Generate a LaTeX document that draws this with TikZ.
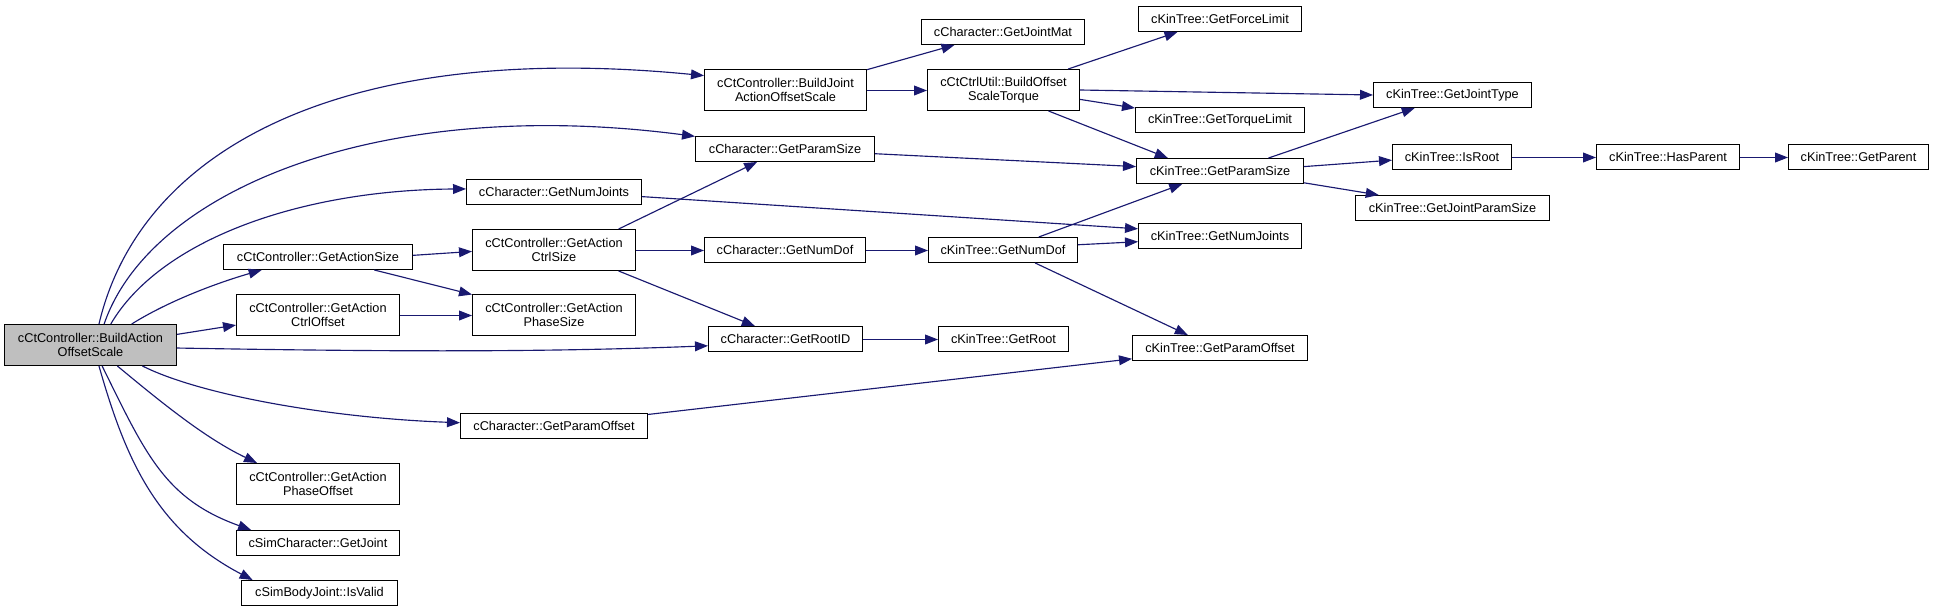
\documentclass[tikz,border=0pt]{standalone}
\usepackage{fontspec}
\setmainfont{Liberation Sans}
\usetikzlibrary{arrows.meta}

\definecolor{edgeblue}{RGB}{25,25,112}
\definecolor{rootgray}{RGB}{191,191,191}

\begin{document}
\begin{tikzpicture}[
    x=0.02cm, y=-0.02cm,
    fnbox/.style={rectangle, draw=black, line width=0.02cm, fill=white, inner sep=0pt,
      align=center, font=\fontsize{7.25}{8.15}\selectfont, minimum height=0.5cm},
    twoline/.style={minimum height=0.82cm},
    fnroot/.style={fnbox, twoline, fill=rootgray},
    arrow/.style={-{Triangle[length=7.4pt,width=5.6pt]}, line width=0.65pt, draw=edgeblue}
  ]
  \useasboundingbox (0,0) rectangle (1933,612);

  % caller
  \node[fnroot, minimum width=3.44cm] (root) at (90.5,345) {cCtController::BuildAction\\OffsetScale};

  % first column
  \node[fnbox, minimum width=3.78cm] (ctAS) at (318,257) {cCtController::GetActionSize};
  \node[fnbox, twoline, minimum width=3.26cm] (ctACO) at (318,315) {cCtController::GetAction\\CtrlOffset};
  \node[fnbox, twoline, minimum width=3.26cm] (ctAPO) at (318,484) {cCtController::GetAction\\PhaseOffset};
  \node[fnbox, minimum width=3.26cm] (scGJ) at (318,543) {cSimCharacter::GetJoint};
  \node[fnbox, minimum width=3.12cm] (sbIV) at (319.5,593) {cSimBodyJoint::IsValid};

  % second column
  \node[fnbox, minimum width=3.5cm] (cNJ) at (554,192) {cCharacter::GetNumJoints};
  \node[fnbox, twoline, minimum width=3.26cm] (ctACS) at (554,250) {cCtController::GetAction\\CtrlSize};
  \node[fnbox, twoline, minimum width=3.26cm] (ctAPS) at (554,315) {cCtController::GetAction\\PhaseSize};
  \node[fnbox, minimum width=3.74cm] (cPO) at (554,426) {cCharacter::GetParamOffset};

  % third column
  \node[fnbox, twoline, minimum width=3.24cm] (bjaos) at (785.5,90) {cCtController::BuildJoint\\ActionOffsetScale};
  \node[fnbox, minimum width=3.58cm] (cGPS) at (785,149) {cCharacter::GetParamSize};
  \node[fnbox, minimum width=3.22cm] (cGND) at (785,250) {cCharacter::GetNumDof};
  \node[fnbox, minimum width=3.08cm] (cGRID) at (785.5,339) {cCharacter::GetRootID};

  % fourth column
  \node[fnbox, minimum width=3.26cm] (cGJM) at (1003,32) {cCharacter::GetJointMat};
  \node[fnbox, twoline, minimum width=3.04cm] (bost) at (1003.5,90) {cCtCtrlUtil::BuildOffset\\ScaleTorque};
  \node[fnbox, minimum width=2.98cm] (kGND) at (1003,250) {cKinTree::GetNumDof};
  \node[fnbox, minimum width=2.6cm] (kGR) at (1003.5,339) {cKinTree::GetRoot};

  % fifth column
  \node[fnbox, minimum width=3.26cm] (kGFL) at (1220,19) {cKinTree::GetForceLimit};
  \node[fnbox, minimum width=3.38cm] (kGTL) at (1220,120) {cKinTree::GetTorqueLimit};
  \node[fnbox, minimum width=3.34cm] (kGPS) at (1220,171) {cKinTree::GetParamSize};
  \node[fnbox, minimum width=3.26cm] (kGNJ) at (1220,236) {cKinTree::GetNumJoints};
  \node[fnbox, minimum width=3.5cm] (kGPO) at (1220,348) {cKinTree::GetParamOffset};

  % right part
  \node[fnbox, minimum width=3.16cm] (kGJT) at (1452.5,95) {cKinTree::GetJointType};
  \node[fnbox, minimum width=2.38cm] (kIR) at (1452,157) {cKinTree::IsRoot};
  \node[fnbox, minimum width=3.88cm] (kGJPS) at (1452.5,208) {cKinTree::GetJointParamSize};
  \node[fnbox, minimum width=2.86cm] (kHP) at (1668,157) {cKinTree::HasParent};
  \node[fnbox, minimum width=2.8cm] (kGP) at (1858.5,157) {cKinTree::GetParent};

  % calls of the root
  \draw[arrow] (root.68) .. controls (140,150) and (340,40) .. (bjaos.170);
  \draw[arrow] (root.57) .. controls (150,190) and (380,95) .. (cGPS.172);
  \draw[arrow] (root.46) .. controls (160,240) and (300,190) .. (cNJ.178);
  \draw[arrow] (root.27) .. controls (170,300) and (220,282) .. (ctAS.193);
  \draw[arrow] (root.7) -- (ctACO.187);
  \draw[arrow] (root.-2) .. controls (400,352) and (550,352) .. (cGRID.185);
  \draw[arrow] (root.-22.6) .. controls (200,395) and (330,418) .. (cPO.178.5);
  \draw[arrow] (root.-38.7) .. controls (162,403) and (205,438) .. (ctAPO.161);
  \draw[arrow] (root.-61) .. controls (146,455) and (165,499) .. (scGJ.169.5);
  \draw[arrow] (root.-68.2) .. controls (126,461) and (157,530) .. (sbIV.169.8);

  % other calls
  \draw[arrow] (ctAS.1.6) -- (ctACS.181.5);
  \draw[arrow] (ctAS.-13.8) -- (ctAPS.166.5);
  \draw[arrow] ([yshift=-0.01cm]ctACO.east) -- ([yshift=-0.01cm]ctAPS.west);
  \draw[arrow] (ctACS.18.4) -- (cGPS.205.7);
  \draw[arrow] ([yshift=-0.01cm]ctACS.east) -- ([yshift=-0.01cm]cGND.west);
  \draw[arrow] (ctACS.-18.4) -- (cGRID.157.6);
  \draw[arrow] (cNJ.-3.9) -- (kGNJ.175.3);
  \draw[arrow] (cPO.7.2) -- (kGPO.187);
  \draw[arrow] (bjaos.14.9) -- (cGJM.195);
  \draw[arrow] ([yshift=-0.01cm]bjaos.east) -- ([yshift=-0.01cm]bost.west);
  \draw[arrow] (cGPS.-3.2) -- (kGPS.177.4);
  \draw[arrow] ([yshift=-0.01cm]cGND.east) -- ([yshift=-0.01cm]kGND.west);
  \draw[arrow] ([yshift=-0.01cm]cGRID.east) -- ([yshift=-0.01cm]kGR.west);
  \draw[arrow] (bost.18.6) -- (kGFL.197.5);
  \draw[arrow] (bost.east) -- (kGJT.west);
  \draw[arrow] (bost.-7.9) -- (kGTL.172.2);
  \draw[arrow] (bost.-25) -- (kGPS.166.3);
  \draw[arrow] (kGND.20) -- (kGPS.199);
  \draw[arrow] (kGND.4.3) -- (kGNJ.184);
  \draw[arrow] (kGND.-22.7) -- (kGPO.158.2);
  \draw[arrow] (kGPS.15.4) -- (kGJT.199.5);
  \draw[arrow] (kGPS.3.1) -- (kIR.183.5);
  \draw[arrow] (kGPS.-8.3) -- (kGJPS.170.7);
  \draw[arrow] ([yshift=-0.01cm]kIR.east) -- ([yshift=-0.01cm]kHP.west);
  \draw[arrow] ([yshift=-0.01cm]kHP.east) -- ([yshift=-0.01cm]kGP.west);
\end{tikzpicture}
\end{document}
